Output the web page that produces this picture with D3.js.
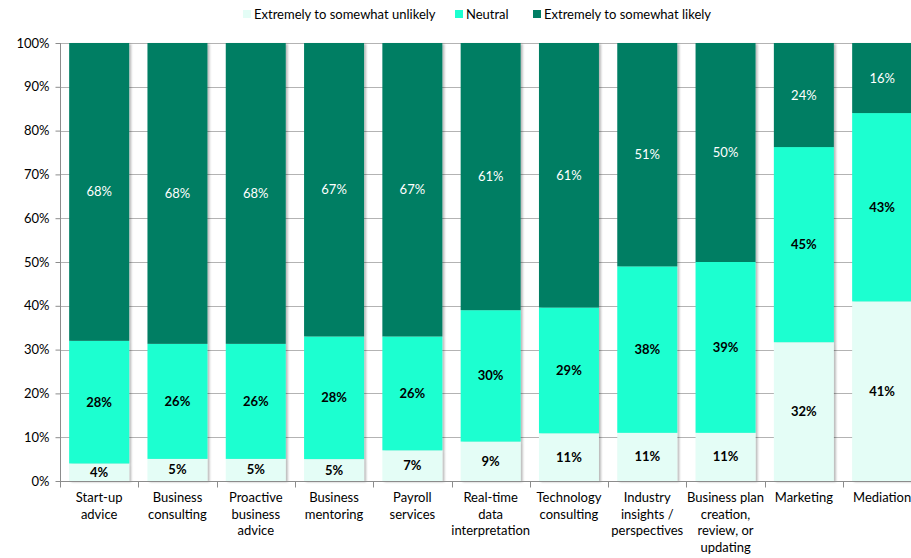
<!DOCTYPE html>
<html>
<head>
<meta charset="utf-8">
<script src="https://cdn.jsdelivr.net/npm/d3@7"></script>
<style>
  html, body { margin: 0; padding: 0; background: #fff; }
  svg { display: block; font-family: Lato, "Open Sans", sans-serif; }
</style>
</head>
<body>
<svg id="chart" width="911" height="558"></svg>
<script>
// Likelihood of using each advisory service (percent of respondents)
const categories = [
  "Start-up advice", "Business consulting", "Proactive business advice",
  "Business mentoring", "Payroll services", "Real-time data interpretation",
  "Technology consulting", "Industry insights / perspectives",
  "Business plan creation, review, or updating", "Marketing", "Mediation"
];
const categoryLines = [
  ["Start-up", "advice"], ["Business", "consulting"], ["Proactive", "business", "advice"],
  ["Business", "mentoring"], ["Payroll", "services"], ["Real-time", "data", "interpretation"],
  ["Technology", "consulting"], ["Industry", "insights /", "perspectives"],
  ["Business plan", "creation,", "review, or", "updating"], ["Marketing"], ["Mediation"]
];
const seriesNames = ["Extremely to somewhat unlikely", "Neutral", "Extremely to somewhat likely"];
const unlikely = [4, 5, 5, 5, 7, 9, 11, 11, 11, 32, 41];
const neutral  = [28, 26, 26, 28, 26, 30, 29, 38, 39, 45, 43];
const likely   = [68, 68, 68, 67, 67, 61, 61, 51, 50, 24, 16];
const yTicks = [0, 0.1, 0.2, 0.3, 0.4, 0.5, 0.6, 0.7, 0.8, 0.9, 1];

const colors = ["#e4fdf6", "#1cffd0", "#007e64"];
const labelColors = ["#000", "#000", "#fff"];

const rows = categories.map((c, i) => ({
  category: c,
  [seriesNames[0]]: unlikely[i],
  [seriesNames[1]]: neutral[i],
  [seriesNames[2]]: likely[i]
}));

const stack = d3.stack().keys(seriesNames).offset(d3.stackOffsetExpand);
const layers = stack(rows);

const svg = d3.select("#chart");
const plotLeft = 60, plotTop = 43, plotBottom = 481, step = 78.3;
const plotRight = plotLeft + step * categories.length;

const x = d3.scaleBand().domain(categories).range([plotLeft, plotRight])
  .paddingInner(0.234).paddingOuter(0.117);
const y = d3.scaleLinear().domain([0, 1]).range([plotBottom, plotTop]);

// soft shadow under the bars
const defs = svg.append("defs");
const f = defs.append("filter").attr("id", "shadow")
  .attr("x", "-10%").attr("y", "-10%").attr("width", "130%").attr("height", "130%");
f.append("feDropShadow").attr("dx", 2).attr("dy", 1)
  .attr("stdDeviation", 1.2).attr("flood-color", "#000").attr("flood-opacity", 0.28);

// horizontal gridlines
svg.append("g").selectAll("line").data(yTicks.slice(1)).join("line")
  .attr("x1", plotLeft).attr("x2", plotRight)
  .attr("y1", d => Math.round(y(d)) + 0.5).attr("y2", d => Math.round(y(d)) + 0.5)
  .attr("stroke", "#b3b3b3").attr("stroke-width", 1);

// stacked bars
const gBars = svg.append("g").attr("filter", "url(#shadow)");
layers.forEach((layer, li) => {
  gBars.append("g").attr("fill", colors[li]).selectAll("rect").data(layer).join("rect")
    .attr("x", d => x(d.data.category))
    .attr("width", x.bandwidth())
    .attr("y", d => y(d[1]))
    .attr("height", d => y(d[0]) - y(d[1]));
});

// value labels
const rawValues = [unlikely, neutral, likely];
layers.forEach((layer, li) => {
  svg.append("g").selectAll("text").data(layer).join("text")
    .attr("x", d => x(d.data.category) + x.bandwidth() / 2)
    .attr("y", d => (y(d[0]) + y(d[1])) / 2)
    .attr("dy", "0.35em")
    .attr("text-anchor", "middle")
    .attr("font-size", 13)
    .attr("font-weight", li === 2 ? 400 : 700)
    .attr("fill", labelColors[li])
    .text((d, i) => rawValues[li][i] + "%");
});

// y axis
const yAxis = svg.append("g").attr("transform", `translate(${plotLeft + 0.5},0)`)
  .call(d3.axisLeft(y).tickValues(yTicks).tickFormat(d3.format(".0%")).tickSize(5).tickPadding(6));
yAxis.select(".domain").attr("stroke", "#8c8c8c").attr("d", `M0,${plotBottom}V${plotTop}`);
yAxis.selectAll(".tick line").attr("stroke", "#8c8c8c");
yAxis.selectAll(".tick text").attr("font-size", 13).attr("fill", "#000")
  .attr("font-family", "Lato, 'Open Sans', sans-serif");

// x axis line with category separators
const xAxis = svg.append("g").attr("transform", `translate(0,${plotBottom + 0.5})`);
xAxis.append("line").attr("x1", plotLeft).attr("x2", plotRight).attr("stroke", "#8c8c8c");
xAxis.selectAll("line.sep").data(d3.range(categories.length + 1)).join("line")
  .attr("class", "sep")
  .attr("x1", i => Math.round(plotLeft + i * step) + 0.5).attr("x2", i => Math.round(plotLeft + i * step) + 0.5)
  .attr("y1", 0).attr("y2", 6).attr("stroke", "#8c8c8c");

// category labels
const xl = svg.append("g").selectAll("text").data(categories).join("text")
  .attr("x", d => x(d) + x.bandwidth() / 2)
  .attr("y", 502)
  .attr("text-anchor", "middle")
  .attr("font-size", 13)
  .attr("fill", "#000");
xl.each(function(d, i) {
  d3.select(this).selectAll("tspan").data(categoryLines[i]).join("tspan")
    .attr("x", x(d) + x.bandwidth() / 2)
    .attr("dy", (t, j) => j === 0 ? 0 : 16.5)
    .text(t => t);
});

// legend
const legendX = [243, 455, 533];
const lg = svg.append("g");
seriesNames.forEach((s, i) => {
  lg.append("rect").attr("x", legendX[i]).attr("y", 10).attr("width", 8).attr("height", 8)
    .attr("fill", colors[i]);
  lg.append("text").attr("x", legendX[i] + 11).attr("y", 14).attr("dy", "0.35em")
    .attr("font-size", 13).attr("fill", "#000").text(s);
});
</script>
</body>
</html>
